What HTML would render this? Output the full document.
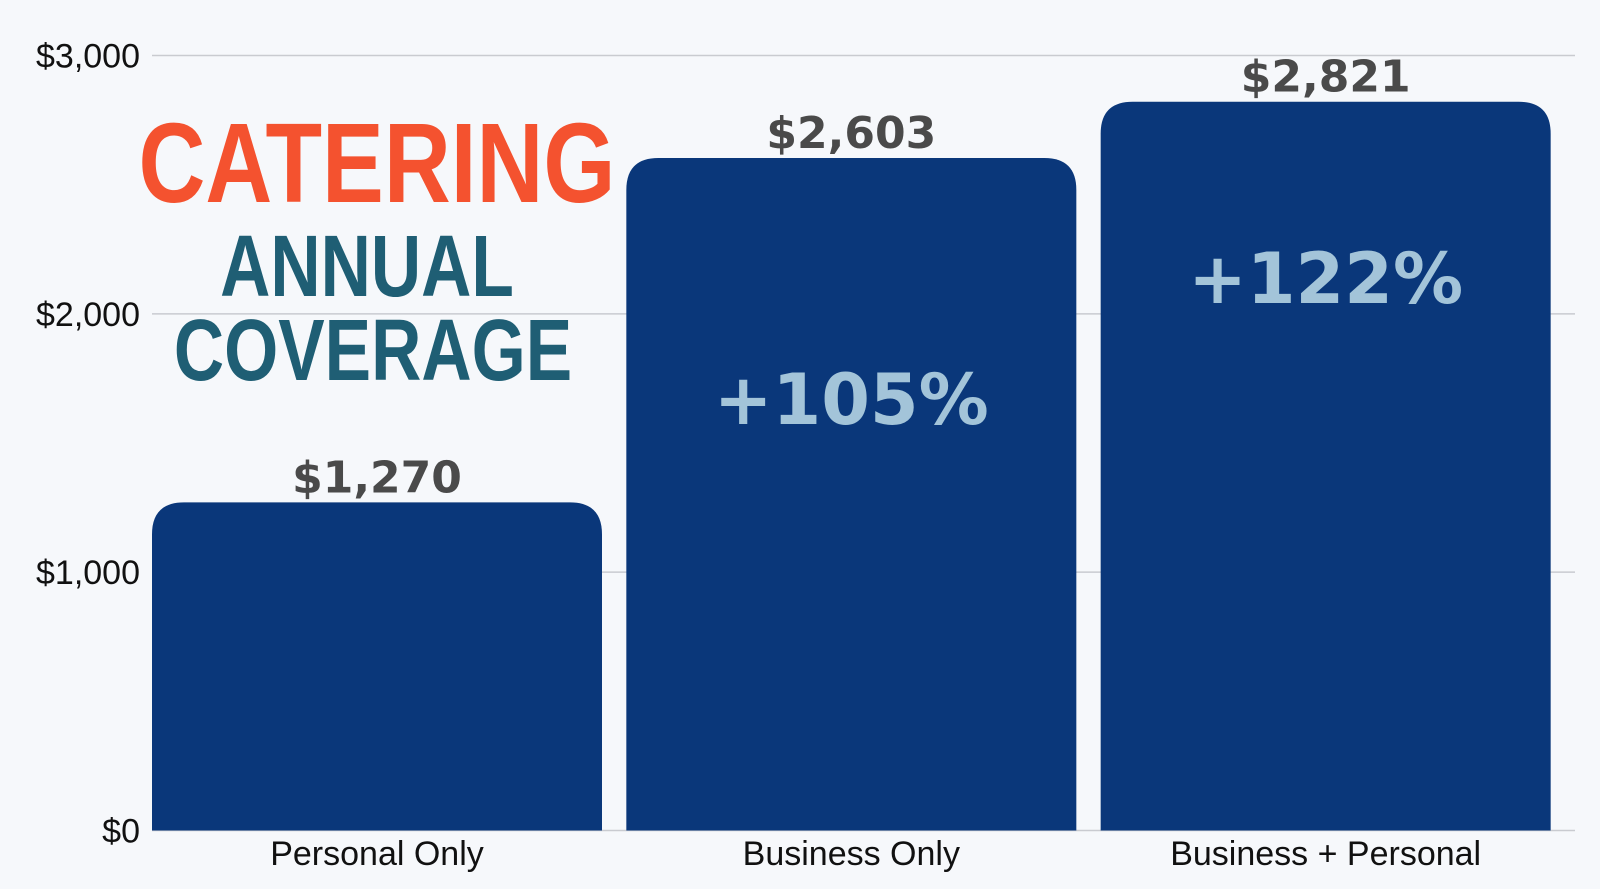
<!DOCTYPE html>
<html><head><meta charset="utf-8"><style>
html,body{margin:0;padding:0;background:#f6f8fb;}
svg{display:block;}
</style></head><body>
<svg id="chart" width="1600" height="889" viewBox="0 0 1600 889" xmlns="http://www.w3.org/2000/svg">
<rect x="0" y="0" width="1600" height="889" fill="#f6f8fb"/>
<g id="grid"></g>
<g id="bars"></g>
<g id="labels"></g>
<g font-family="'Liberation Sans Narrow','Liberation Sans',sans-serif" font-weight="bold" text-anchor="middle">
<text x="377" y="202" font-size="113" fill="#f4522f" transform="translate(377 0) scale(0.82 1) translate(-377 0)">CATERING</text>
<text x="367" y="296" font-size="87" fill="#1f5e74" transform="translate(367 0) scale(0.8 1) translate(-367 0)">ANNUAL</text>
<text x="373" y="380" font-size="87" fill="#1f5e74" transform="translate(373 0) scale(0.8 1) translate(-373 0)">COVERAGE</text>
</g>
</svg>
<script>
const categories = ["Personal Only", "Business Only", "Business + Personal"];
const values = [1270, 2603, 2821];
const valueLabels = ["$1,270", "$2,603", "$2,821"];
const pctLabels = ["", "+105%", "+122%"];
const pctAnchorValues = [0, 1574, 2042];
const yTicks = [0, 1000, 2000, 3000];
const yTickLabels = ["$0", "$1,000", "$2,000", "$3,000"];

const NS = "http://www.w3.org/2000/svg";
const plotLeft = 152, plotRight = 1575, y0 = 830.5, yMax = 3000, yTop = 55.5;
const band = (plotRight - plotLeft) / categories.length;
const barW = 450;
function y(v){ return y0 - (v / yMax) * (y0 - yTop); }
function xBand(i){ return plotLeft + i * band; }
function mk(tag, attrs){ const e = document.createElementNS(NS, tag); for (const k in attrs) e.setAttribute(k, attrs[k]); return e; }

const grid = document.getElementById('grid');
yTicks.forEach((t, i) => {
  if (t > 0) {
    const l = mk('line', {x1: plotLeft, x2: plotRight, y1: y(t), y2: y(t), stroke: '#c9cbd0', 'stroke-width': 1.5});
    
    
    grid.appendChild(l);
  }
  const tx = mk('text', {x: 140, y: y(t) + 12, 'text-anchor': 'end', 'font-family': "'Liberation Sans',sans-serif", 'font-size': 34, fill: '#111'});
  tx.textContent = yTickLabels[i];
  
  
  grid.appendChild(tx);
});
const axis = mk('line', {x1: plotLeft, x2: plotRight, y1: y0, y2: y0, stroke: '#c9cbd0', 'stroke-width': 1.5});


grid.appendChild(axis);

const bars = document.getElementById('bars');
const labels = document.getElementById('labels');
values.forEach((v, i) => {
  const x = xBand(i), top = y(v), r = 32, w = barW, h = y0 - top;
  const d = `M${x},${y0} L${x},${top + r} Q${x},${top} ${x + r},${top} L${x + w - r},${top} Q${x + w},${top} ${x + w},${top + r} L${x + w},${y0} Z`;
  const p = mk('path', {d: d, fill: '#0a377a'});
  
  
  bars.appendChild(p);
  const cx = x + w / 2;
  const vl = mk('text', {x: cx, y: top - 10, 'text-anchor': 'middle', 'font-family': "'DejaVu Sans','Liberation Sans',sans-serif", 'font-weight': 'bold', 'font-size': 44, fill: '#4a4a4a'});
  vl.textContent = valueLabels[i];
  
  
  labels.appendChild(vl);
  if (pctLabels[i]) {
    const pl = mk('text', {x: cx, y: y(pctAnchorValues[i]), 'text-anchor': 'middle', 'font-family': "'DejaVu Sans','Liberation Sans',sans-serif", 'font-weight': 'bold', 'font-size': 70, fill: '#a3c4d9'});
    pl.textContent = pctLabels[i];
    
    
    labels.appendChild(pl);
  }
  const cl = mk('text', {x: cx, y: 865, 'text-anchor': 'middle', 'font-family': "'Liberation Sans',sans-serif", 'font-size': 34, fill: '#111'});
  cl.textContent = categories[i];
  
  
  labels.appendChild(cl);
});
</script>
</body></html>
